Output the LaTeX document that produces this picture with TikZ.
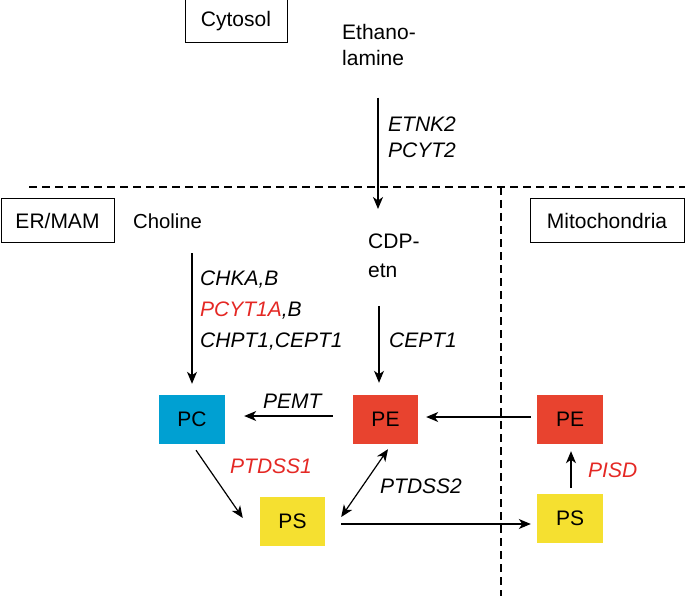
\documentclass[tikz,border=0pt]{standalone}
\usepackage{fontspec}
\setmainfont{Liberation Sans}
\usetikzlibrary{arrows.meta,calc}
\definecolor{pcblue}{RGB}{0,160,210}
\definecolor{pered}{RGB}{232,67,47}
\definecolor{psyellow}{RGB}{245,224,48}
\definecolor{genered}{RGB}{228,40,36}
\begin{document}
\begin{tikzpicture}[x=1pt,y=-1pt,
  lbl/.style={font=\fontsize{21}{26}\selectfont, inner sep=0pt},
  gene/.style={inner sep=0pt, font=\fontsize{21}{26}\selectfont\itshape, anchor=base west},
  frame/.style={draw, line width=1pt, lbl, minimum height=43pt},
  mol/.style={lbl, minimum width=66pt, minimum height=49pt},
  arr/.style={line width=1.2pt, -{Stealth[length=12pt,width=10pt,inset=3.5pt]}},
  arrs/.style={line width=1.2pt, {Stealth[length=12pt,width=10pt,inset=3.5pt]}-{Stealth[length=12pt,width=10pt,inset=3.5pt]}},
  sep/.style={dash pattern=on 8pt off 5pt, line width=1.2pt}]
\useasboundingbox (0,0) rectangle (685,596);

% compartments
\draw[sep] (29,187) -- (685,187);
\draw[sep] (501,187) -- (501,596);

\node[frame, minimum width=102pt] (cytosol) at (236,21.5) {Cytosol};
\node[frame, minimum width=113pt] (ermam) at (57.5,220.5) {ER/MAM};
\node[frame, minimum width=154pt] (mito) at (607,220.5) {Mitochondria};

% substrates
\node[lbl, align=left, anchor=north west] (ethan) at (342,23.7) {Ethano-\\lamine};
\node[lbl, font=\fontsize{20.3}{26}\selectfont, anchor=base west] (choline) at (133,228) {Choline};
\node[font=\fontsize{21}{28.5}\selectfont, inner sep=0pt, align=left, anchor=north west] (cdp) at (368,234) {CDP-\\etn};

% lipids
\node[mol, fill=pcblue] (pc) at (192,419.5) {PC};
\node[mol, fill=pered, minimum width=65pt] (pem) at (385.5,419.5) {PE};
\node[mol, fill=psyellow, minimum width=65pt] (ps) at (292.5,521.5) {PS};
\node[mol, fill=pered] (per) at (570,419.5) {PE};
\node[mol, fill=psyellow] (psr) at (570,518.5) {PS};

% enzymes
\node[gene] (etnk) at (388,132) {ETNK2};
\node[gene] (pcyt2) at (388,158) {PCYT2};
\node[gene] (chka) at (200,285) {CHKA,B};
\node[gene] (pcyt1) at (200,316) {{\color{genered}PCYT1A},B};
\node[gene] (chpt) at (200,347) {CHPT1,CEPT1};
\node[gene] (cept) at (389,347) {CEPT1};
\node[gene] (pemt) at (263,408) {PEMT};
\node[gene, text=genered] (ptdss1) at (230,473) {PTDSS1};
\node[gene] (ptdss2) at (380,493) {PTDSS2};
\node[gene, text=genered] (pisd) at (588,477) {PISD};

% reactions
\draw[arr] ($(ethan.south west)+(36,32)$) -- ($(ethan.south west |- cdp.north)+(36,-25)$);
\draw[arr] ($(choline.south -| pc.north)+(0,25)$) -- ($(pc.north)+(0,-11)$);
\draw[arr] ($(cdp.south west)+(11,28)$) -- ($(cdp.south west |- pem.north)+(11,-12)$);
\draw[arr] ($(pem.west)+(-20,-3.5)$) -- ($(pc.east)+(19,-3.5)$);
\draw[arr] ($(pc.south)+(4,6)$) -- ($(ps.west)+(-17,-3.5)$);
\draw[arrs] ($(pem.south)+(2.5,5)$) -- ($(ps.east)+(16,-4.5)$);
\draw[arr] ($(ps.east)+(16,2.5)$) -- ($(psr.west)+(-6,5.5)$);
\draw[arr] ($(per.west)+(-6,-2.5)$) -- ($(pem.east)+(8,-2.5)$);
\draw[arr] ($(psr.north)+(1,-6)$) -- ($(per.south)+(1,7)$);
\end{tikzpicture}
\end{document}
